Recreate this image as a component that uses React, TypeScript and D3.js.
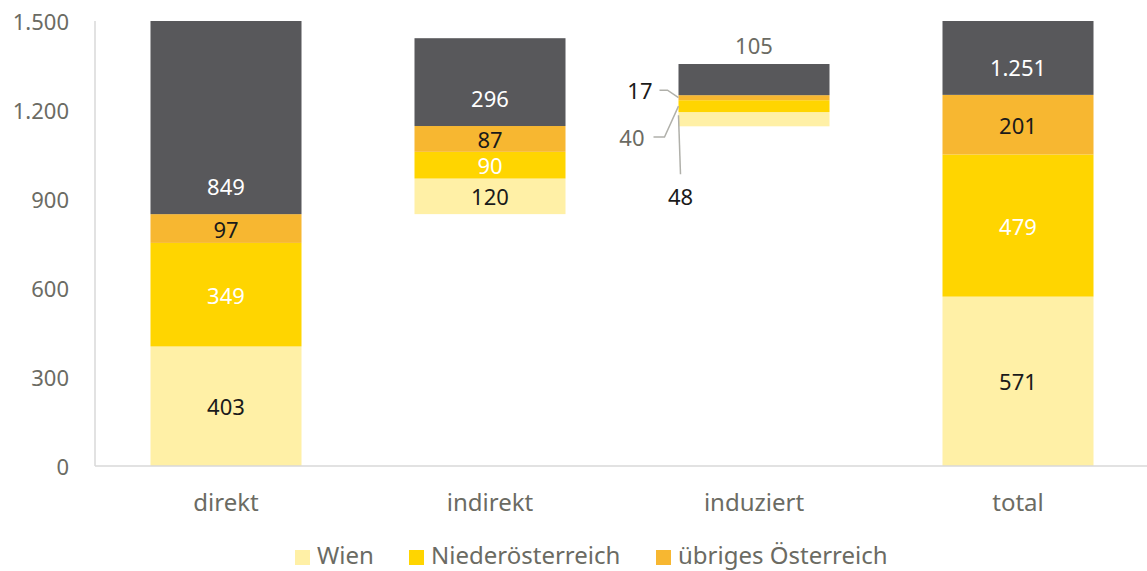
import React from "react";
import * as d3 from "d3";

const categories = ["direkt", "indirekt", "induziert", "total"];
const bases = [0, 849, 1145, 0];
const wien = [403, 120, 48, 571];
const noe = [349, 90, 40, 479];
const uebrig = [97, 87, 17, 201];
const rest = [849, 296, 105, 1251];
const yTicks = [0, 300, 600, 900, 1200, 1500];
const legendLabels = ["Wien", "Niederösterreich", "übriges Österreich"];

const W = 1147;
const H = 571;
const FONT = "'Noto Sans', 'Open Sans', sans-serif";
const colors = ["#fff0a6", "#ffd500", "#f7b731", "#58585b"];
const labelColors = ["#1a1a1a", "#ffffff", "#1a1a1a", "#ffffff"];
const axisGrey = "#d9d9d9";
const textGrey = "#6b6b63";
const NUM = 22;
const CAT = 24;

const fmt = (v: number) => d3.format(",")(v).replace(/,/g, ".");

export default function App() {
  const x = d3.scaleBand().domain(categories).range([94, 1150]).paddingInner(0.428).paddingOuter(0.214);
  const y = d3.scaleLinear().domain([0, 1500]).range([466, 21]);
  const series = [wien, noe, uebrig, rest];

  const segs: any[] = [];
  categories.forEach((c, i) => {
    let acc = bases[i];
    series.forEach((s, k) => {
      const v = s[i];
      segs.push({ c, i, k, v, y0: acc, y1: acc + v });
      acc += v;
    });
  });

  const bw = x.bandwidth();
  const indIdx = 2;
  const indLeft = x(categories[indIdx])!;

  return (
    <svg width={W} height={H} style={{ position: "absolute", left: 0, top: 0 }} fontFamily={FONT}>
      <defs>
        <clipPath id="plot">
          <rect x={0} y={y(1500)} width={W} height={y(0) - y(1500)} />
        </clipPath>
      </defs>
      <g clipPath="url(#plot)">
        {segs.map((s, j) => (
          <rect
            key={j}
            x={x(s.c)}
            y={y(s.y1)}
            width={bw}
            height={y(s.y0) - y(s.y1)}
            fill={colors[s.k]}
          />
        ))}
      </g>
      {/* axes */}
      <line x1={95} x2={95} y1={y(1500)} y2={y(0)} stroke={axisGrey} strokeWidth={1.5} />
      <line x1={95} x2={W} y1={y(0)} y2={y(0)} stroke={axisGrey} strokeWidth={1.5} />
      {yTicks.map((t) => (
        <text key={t} x={69} y={y(t)} textAnchor="end" dominantBaseline="central" fontSize={NUM} fill={textGrey}>
          {fmt(t)}
        </text>
      ))}
      {categories.map((c) => (
        <text key={c} x={x(c)! + bw / 2} y={501} textAnchor="middle" dominantBaseline="central" fontSize={CAT} fill={textGrey}>
          {c}
        </text>
      ))}
      {/* segment labels */}
      {segs
        .filter((s) => s.i !== indIdx)
        .map((s, j) => {
          const cy = s.k === 3 ? y(s.y0) - 28 : (y(s.y0) + y(Math.min(s.y1, 1500))) / 2;
          return (
            <text
              key={j}
              x={x(s.c)! + bw / 2}
              y={cy}
              textAnchor="middle"
              dominantBaseline="central"
              fontSize={NUM}
              fill={labelColors[s.k]}
            >
              {fmt(s.v)}
            </text>
          );
        })}
      {/* induziert labels with leader lines */}
      {(() => {
        const sg = segs.filter((s) => s.i === indIdx);
        const top = sg[3];
        const mid = (s: any) => (y(s.y0) + y(s.y1)) / 2;
        return (
          <g>
            <text x={indLeft + bw / 2} y={y(top.y1) - 19} textAnchor="middle" dominantBaseline="central" fontSize={NUM} fill={textGrey}>
              {fmt(top.v)}
            </text>
            <polyline
              points={`${indLeft - 19},${y(sg[2].y1) - 5} ${indLeft - 11},${y(sg[2].y1) - 5} ${indLeft},${mid(sg[2])}`}
              fill="none"
              stroke="#b0b0aa"
              strokeWidth={1.5}
            />
            <text x={indLeft - 26} y={y(sg[2].y1) - 5} textAnchor="end" dominantBaseline="central" fontSize={NUM} fill="#1a1a1a">
              {fmt(sg[2].v)}
            </text>
            <polyline
              points={`${indLeft - 25},${y(sg[1].y0) + 25} ${indLeft - 14},${y(sg[1].y0) + 25} ${indLeft},${mid(sg[1])}`}
              fill="none"
              stroke="#b0b0aa"
              strokeWidth={1.5}
            />
            <text x={indLeft - 34} y={y(sg[1].y0) + 25} textAnchor="end" dominantBaseline="central" fontSize={NUM} fill={textGrey}>
              {fmt(sg[1].v)}
            </text>
            <polyline
              points={`${indLeft + 2},${y(sg[0].y0) + 48} ${indLeft},${mid(sg[0]) - 4}`}
              fill="none"
              stroke="#b0b0aa"
              strokeWidth={1.5}
            />
            <text x={indLeft + 2} y={y(sg[0].y0) + 70} textAnchor="middle" dominantBaseline="central" fontSize={NUM} fill="#1a1a1a">
              {fmt(sg[0].v)}
            </text>
          </g>
        );
      })()}
      {/* legend */}
      {(() => {
        const xs = [295, 409, 656];
        return legendLabels.map((l, k) => (
          <g key={l}>
            <rect x={xs[k]} y={550} width={15} height={15} fill={colors[k]} />
            <text x={xs[k] + 22} y={554} dominantBaseline="central" fontSize={CAT} fill={textGrey}>
              {l}
            </text>
          </g>
        ));
      })()}
    </svg>
  );
}
